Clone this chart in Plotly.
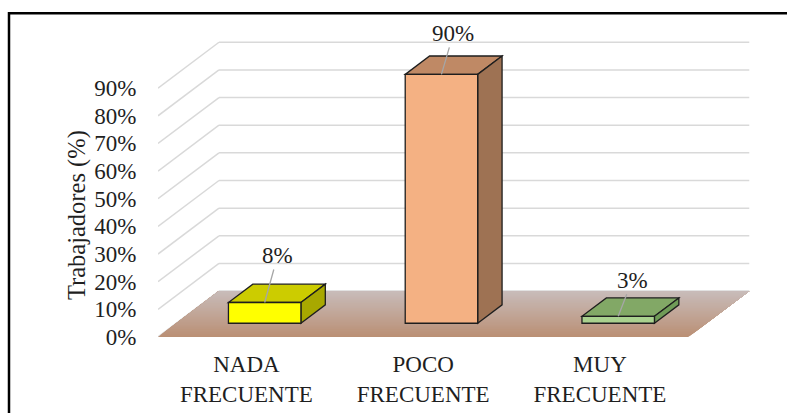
import math
import plotly.graph_objects as go

# ---- data ----
categories = ["NADA<br>FRECUENTE", "POCO<br>FRECUENTE", "MUY<br>FRECUENTE"]
values = [7.5, 90.0, 2.5]          # % of workers
y_ticks = [0, 10, 20, 30, 40, 50, 60, 70, 80, 90]
y_tick_labels = [f"{v}%" for v in y_ticks]

# ---- style ----
face_colors = ["#FFFF00", "#F4B183", "#A9D18E"]
top_colors = ["#CCCC00", "#BF8965", "#82A866"]
side_colors = ["#A8A800", "#9E7253", "#6F9B57"]
label_offsets = [(13, -47), (12, -41), (14, -36)]   # px, manual label placement
FONT = "Liberation Serif"
TXT = "#1F1F1F"
FS = 23

W, H = 787, 413
L, R, T, B = 158, 28, 18.8, 76
XR = [-0.5, 2.9]
YR = [0, 115]

DX, DY = 0.345, 16.6        # floor depth in data units (oblique projection)
BAR_W = 0.41
D0, D1 = 0.30, 0.70         # bar depth span (fraction of floor depth)

fig = go.Figure()
fig.add_trace(go.Scatter(x=list(range(len(values))), y=values, mode="markers",
                         marker=dict(opacity=0), hoverinfo="skip", showlegend=False))

shapes = []
n_cat = len(categories)
xl, xr = -0.5, n_cat - 0.5

# gridlines: left side wall diagonals + back wall
for v in y_ticks:
    shapes.append(dict(type="line", xref="x", yref="y", x0=xl, y0=v, x1=xl + DX, y1=v + DY,
                       line=dict(color="#D9D9D9", width=1.5), layer="above"))
    shapes.append(dict(type="line", xref="x", yref="y", x0=xl + DX, y0=v + DY, x1=xr + DX, y1=v + DY,
                       line=dict(color="#D9D9D9", width=1.5), layer="above"))

# floor with gradient (front brown -> back greyish); overlapping strips avoid seams
c_front = (186, 143, 116)
c_back = (200, 188, 186)
N = 30
for k in range(N):
    t0 = k / N
    tm = (k + 0.5) / N
    col = tuple(round(c_front[j] + (c_back[j] - c_front[j]) * tm) for j in range(3))
    path = (f"M {xl + t0*DX},{t0*DY} L {xr + t0*DX},{t0*DY} "
            f"L {xr + DX},{DY} L {xl + DX},{DY} Z")
    shapes.append(dict(type="path", xref="x", yref="y", path=path,
                       fillcolor=f"rgb{col}", line=dict(width=0), layer="above"))

# bars
bx, by = (D1 - D0) * DX, (D1 - D0) * DY
ol = dict(color="#1E1E1E", width=1.3)
annotations = []
for i, v in enumerate(values):
    fx0 = i - BAR_W / 2 + D0 * DX
    fx1 = fx0 + BAR_W
    fy0 = D0 * DY
    fy1 = fy0 + v
    shapes.append(dict(type="path", xref="x", yref="y",
                       path=f"M {fx0},{fy1} L {fx1},{fy1} L {fx1+bx},{fy1+by} L {fx0+bx},{fy1+by} Z",
                       fillcolor=top_colors[i], line=ol, layer="above"))
    shapes.append(dict(type="path", xref="x", yref="y",
                       path=f"M {fx1},{fy0} L {fx1+bx},{fy0+by} L {fx1+bx},{fy1+by} L {fx1},{fy1} Z",
                       fillcolor=side_colors[i], line=ol, layer="above"))
    shapes.append(dict(type="rect", xref="x", yref="y", x0=fx0, x1=fx1, y0=fy0, y1=fy1,
                       fillcolor=face_colors[i], line=ol, layer="above"))
    lab = f"{math.floor(v + 0.5)}%"
    ax, ay = label_offsets[i]
    annotations.append(dict(x=(fx0 + fx1) / 2, y=fy1, xref="x", yref="y", text=lab,
                            showarrow=True, arrowhead=0, arrowwidth=1.3, arrowcolor="#A6A6A6",
                            ax=ax, ay=ay, standoff=0,
                            font=dict(family=FONT, size=FS, color=TXT)))

# y-axis title
pw, ph = W - L - R, H - T - B
annotations.append(dict(text="Trabajadores (%)", textangle=-90, xref="paper", yref="paper",
                        x=(77 - L) / pw, y=(H - B - 215) / ph,
                        xanchor="center", yanchor="middle", showarrow=False,
                        font=dict(family=FONT, size=24.5, color=TXT)))

# chart frame
shapes.append(dict(type="rect", xref="paper", yref="paper",
                   x0=(9 - L) / pw, x1=(W + 20 - L) / pw,
                   y0=(H - B - (H + 20)) / ph, y1=(H - B - 13) / ph,
                   line=dict(color="black", width=2.5), fillcolor="rgba(0,0,0,0)", layer="above"))

fig.update_layout(
    width=W, height=H, margin=dict(l=L, r=R, t=T, b=B, autoexpand=False),
    paper_bgcolor="white", plot_bgcolor="white",
    shapes=shapes, annotations=annotations, showlegend=False,
    xaxis=dict(range=XR, showgrid=False, zeroline=False, showline=False, automargin=False,
               tickmode="array", tickvals=list(range(n_cat)), ticktext=categories,
               ticks="outside", ticklen=6, tickcolor="rgba(0,0,0,0)",
               tickfont=dict(family=FONT, size=FS, color=TXT)),
    yaxis=dict(range=YR, showgrid=False, zeroline=False, showline=False, automargin=False,
               tickmode="array", tickvals=y_ticks, ticktext=y_tick_labels,
               ticks="outside", ticklen=16, tickcolor="rgba(0,0,0,0)",
               tickfont=dict(family=FONT, size=FS, color=TXT)),
)

fig.write_html("out.html")
